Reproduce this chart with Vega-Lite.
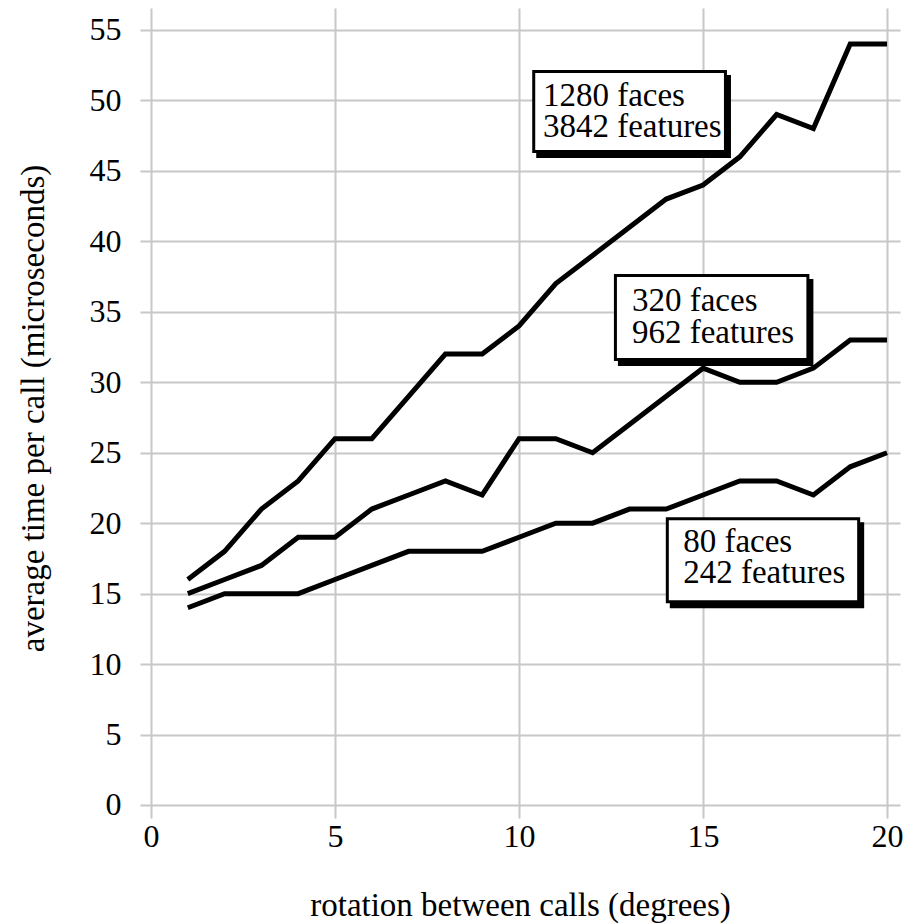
{
  "$schema": "https://vega.github.io/schema/vega-lite/v6.json",
  "width": 760,
  "height": 810,
  "autosize": {"type": "none"},
  "padding": {"left": 140, "top": 8, "right": 14, "bottom": 106},
  "background": "white",
  "config": {
    "view": {"stroke": null},
    "font": "Liberation Serif",
    "axis": {
      "domain": false,
      "ticks": false,
      "grid": true,
      "gridColor": "#c8c8c8",
      "gridWidth": 2,
      "gridOpacity": 1,
      "labelFont": "Liberation Serif",
      "labelFontSize": 32,
      "labelColor": "black",
      "titleFont": "Liberation Serif",
      "titleFontSize": 33,
      "titleFontWeight": "normal",
      "titleColor": "black"
    }
  },
  "datasets": {
    "series": [
      {"rotation": 1, "time": 16, "model": "1280"},
      {"rotation": 2, "time": 18, "model": "1280"},
      {"rotation": 3, "time": 21, "model": "1280"},
      {"rotation": 4, "time": 23, "model": "1280"},
      {"rotation": 5, "time": 26, "model": "1280"},
      {"rotation": 6, "time": 26, "model": "1280"},
      {"rotation": 7, "time": 29, "model": "1280"},
      {"rotation": 8, "time": 32, "model": "1280"},
      {"rotation": 9, "time": 32, "model": "1280"},
      {"rotation": 10, "time": 34, "model": "1280"},
      {"rotation": 11, "time": 37, "model": "1280"},
      {"rotation": 12, "time": 39, "model": "1280"},
      {"rotation": 13, "time": 41, "model": "1280"},
      {"rotation": 14, "time": 43, "model": "1280"},
      {"rotation": 15, "time": 44, "model": "1280"},
      {"rotation": 16, "time": 46, "model": "1280"},
      {"rotation": 17, "time": 49, "model": "1280"},
      {"rotation": 18, "time": 48, "model": "1280"},
      {"rotation": 19, "time": 54, "model": "1280"},
      {"rotation": 20, "time": 54, "model": "1280"},
      {"rotation": 1, "time": 15, "model": "320"},
      {"rotation": 2, "time": 16, "model": "320"},
      {"rotation": 3, "time": 17, "model": "320"},
      {"rotation": 4, "time": 19, "model": "320"},
      {"rotation": 5, "time": 19, "model": "320"},
      {"rotation": 6, "time": 21, "model": "320"},
      {"rotation": 7, "time": 22, "model": "320"},
      {"rotation": 8, "time": 23, "model": "320"},
      {"rotation": 9, "time": 22, "model": "320"},
      {"rotation": 10, "time": 26, "model": "320"},
      {"rotation": 11, "time": 26, "model": "320"},
      {"rotation": 12, "time": 25, "model": "320"},
      {"rotation": 13, "time": 27, "model": "320"},
      {"rotation": 14, "time": 29, "model": "320"},
      {"rotation": 15, "time": 31, "model": "320"},
      {"rotation": 16, "time": 30, "model": "320"},
      {"rotation": 17, "time": 30, "model": "320"},
      {"rotation": 18, "time": 31, "model": "320"},
      {"rotation": 19, "time": 33, "model": "320"},
      {"rotation": 20, "time": 33, "model": "320"},
      {"rotation": 1, "time": 14, "model": "80"},
      {"rotation": 2, "time": 15, "model": "80"},
      {"rotation": 3, "time": 15, "model": "80"},
      {"rotation": 4, "time": 15, "model": "80"},
      {"rotation": 5, "time": 16, "model": "80"},
      {"rotation": 6, "time": 17, "model": "80"},
      {"rotation": 7, "time": 18, "model": "80"},
      {"rotation": 8, "time": 18, "model": "80"},
      {"rotation": 9, "time": 18, "model": "80"},
      {"rotation": 10, "time": 19, "model": "80"},
      {"rotation": 11, "time": 20, "model": "80"},
      {"rotation": 12, "time": 20, "model": "80"},
      {"rotation": 13, "time": 21, "model": "80"},
      {"rotation": 14, "time": 21, "model": "80"},
      {"rotation": 15, "time": 22, "model": "80"},
      {"rotation": 16, "time": 23, "model": "80"},
      {"rotation": 17, "time": 23, "model": "80"},
      {"rotation": 18, "time": 22, "model": "80"},
      {"rotation": 19, "time": 24, "model": "80"},
      {"rotation": 20, "time": 25, "model": "80"}
    ],
    "boxes": [
      {"model": "1280", "x": 10.40, "x2": 15.61, "y": 46.38, "y2": 52.06},
      {"model": "320", "x": 12.62, "x2": 17.85, "y": 31.62, "y2": 37.58},
      {"model": "80", "x": 14.03, "x2": 19.23, "y": 14.42, "y2": 20.31}
    ],
    "labels": [
      {"x": 10.65, "y": 49.6, "label": "1280 faces"},
      {"x": 10.65, "y": 47.43, "label": "3842 features"},
      {"x": 13.07, "y": 35.08, "label": "320 faces"},
      {"x": 13.07, "y": 32.77, "label": "962 features"},
      {"x": 14.46, "y": 17.98, "label": "80 faces"},
      {"x": 14.46, "y": 15.73, "label": "242 features"}
    ]
  },
  "layer": [
    {
      "data": {"name": "series"},
      "mark": {"type": "line", "color": "black", "strokeWidth": 5, "strokeJoin": "miter", "strokeCap": "butt"},
      "encoding": {
        "x": {
          "field": "rotation", "type": "quantitative",
          "scale": {"domain": [-0.299, 20.353], "nice": false, "zero": false},
          "axis": {"values": [0, 5, 10, 15, 20], "title": "rotation between calls (degrees)", "labelPadding": 3, "titleBaseline": "alphabetic", "titleY": 97}
        },
        "y": {
          "field": "time", "type": "quantitative",
          "scale": {"domain": [-0.923, 56.56], "nice": false, "zero": false},
          "axis": {"values": [0, 5, 10, 15, 20, 25, 30, 35, 40, 45, 50, 55], "title": "average time per call (microseconds)", "labelPadding": 19, "titleBaseline": "alphabetic", "titleX": -97, "titleY": 400}
        },
        "detail": {"field": "model", "type": "nominal"}
      }
    },
    {
      "data": {"name": "boxes"},
      "mark": {"type": "rect", "fill": "black", "stroke": "black", "strokeWidth": 3, "xOffset": 4, "x2Offset": 4, "yOffset": 5, "y2Offset": 5},
      "encoding": {
        "x": {"field": "x", "type": "quantitative"},
        "x2": {"field": "x2"},
        "y": {"field": "y", "type": "quantitative"},
        "y2": {"field": "y2"}
      }
    },
    {
      "data": {"name": "boxes"},
      "mark": {"type": "rect", "fill": "white", "stroke": "black", "strokeWidth": 3},
      "encoding": {
        "x": {"field": "x", "type": "quantitative"},
        "x2": {"field": "x2"},
        "y": {"field": "y", "type": "quantitative"},
        "y2": {"field": "y2"}
      }
    },
    {
      "data": {"name": "labels"},
      "mark": {"type": "text", "font": "Liberation Serif", "fontSize": 33, "align": "left", "baseline": "alphabetic", "color": "black"},
      "encoding": {
        "x": {"field": "x", "type": "quantitative"},
        "y": {"field": "y", "type": "quantitative"},
        "text": {"field": "label"}
      }
    }
  ]
}
